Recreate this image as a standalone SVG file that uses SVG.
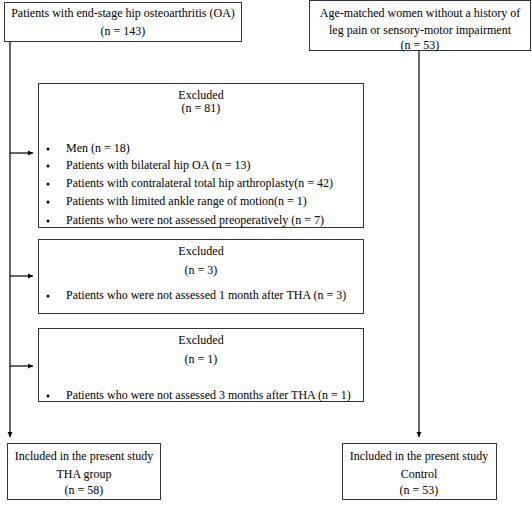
<svg xmlns="http://www.w3.org/2000/svg" width="532" height="506" viewBox="0 0 532 506">
<defs>
<marker id="ah" markerWidth="6" markerHeight="6" refX="5" refY="3" orient="auto" markerUnits="userSpaceOnUse">
<path d="M0,0.5 L5,3 L0,5.5 Z" fill="#000"/>
</marker>
<style>
rect{fill:#fff;stroke:#333;stroke-width:1}
text{font-family:"Liberation Serif","Times New Roman",serif;font-size:12px;fill:#000}
.c{text-anchor:middle}
line{stroke:#000;stroke-width:1.2}
.dot{fill:#000}
</style>
</defs>
<rect x="0" y="0" width="532" height="506" style="fill:#fff;stroke:none"/>
<g id="connectors">
<line x1="10" y1="41" x2="10" y2="437" marker-end="url(#ah)"/>
<line x1="10" y1="153" x2="33" y2="153" marker-end="url(#ah)"/>
<line x1="10" y1="276" x2="33" y2="276" marker-end="url(#ah)"/>
<line x1="10" y1="366" x2="33" y2="366" marker-end="url(#ah)"/>
<line x1="419" y1="50" x2="419" y2="437" marker-end="url(#ah)"/>
</g>
<g id="oa">
<rect x="4.5" y="2.5" width="237" height="39"/>
<text class="c" x="123" y="17">Patients with end-stage hip osteoarthritis (OA)</text>
<text class="c" x="123" y="35">(n = 143)</text>
</g>
<g id="women">
<rect x="309.5" y="0.5" width="221" height="50"/>
<text class="c" x="420" y="17">Age-matched women without a history of</text>
<text class="c" x="420" y="34">leg pain or sensory-motor impairment</text>
<text class="c" x="420" y="49">(n = 53)</text>
</g>
<g id="excluded1">
<rect x="38.5" y="83.5" width="325" height="144"/>
<text class="c" x="201" y="99">Excluded</text>
<text class="c" x="201" y="112">(n = 81)</text>
<circle class="dot" cx="48" cy="149" r="1.5"/>
<text x="66" y="152">Men (n = 18)</text>
<circle class="dot" cx="48" cy="166" r="1.5"/>
<text x="66" y="169">Patients with bilateral hip OA (n = 13)</text>
<circle class="dot" cx="48" cy="184" r="1.5"/>
<text x="66" y="187">Patients with contralateral total hip arthroplasty(n = 42)</text>
<circle class="dot" cx="48" cy="202" r="1.5"/>
<text x="66" y="205">Patients with limited ankle range of motion(n = 1)</text>
<circle class="dot" cx="48" cy="221" r="1.5"/>
<text x="66" y="224">Patients who were not assessed preoperatively (n = 7)</text>
</g>
<g id="excluded2">
<rect x="38.5" y="239.5" width="325" height="74"/>
<text class="c" x="201" y="255">Excluded</text>
<text class="c" x="201" y="274">(n = 3)</text>
<circle class="dot" cx="48" cy="296" r="1.5"/>
<text x="66" y="299">Patients who were not assessed 1 month after THA (n = 3)</text>
</g>
<g id="excluded3">
<rect x="38.5" y="328.5" width="325" height="73"/>
<text class="c" x="201" y="344">Excluded</text>
<text class="c" x="201" y="363">(n = 1)</text>
<circle class="dot" cx="48" cy="396" r="1.5"/>
<text x="66" y="399">Patients who were not assessed 3 months after THA (n = 1)</text>
</g>
<g id="tha">
<rect x="7.5" y="443.5" width="153" height="56"/>
<text class="c" x="84" y="460">Included in the present study</text>
<text class="c" x="84" y="478">THA group</text>
<text class="c" x="84" y="494">(n = 58)</text>
</g>
<g id="control">
<rect x="342.5" y="443.5" width="154" height="56"/>
<text class="c" x="419" y="460">Included in the present study</text>
<text class="c" x="419" y="478">Control</text>
<text class="c" x="419" y="494">(n = 53)</text>
</g>
</svg>
